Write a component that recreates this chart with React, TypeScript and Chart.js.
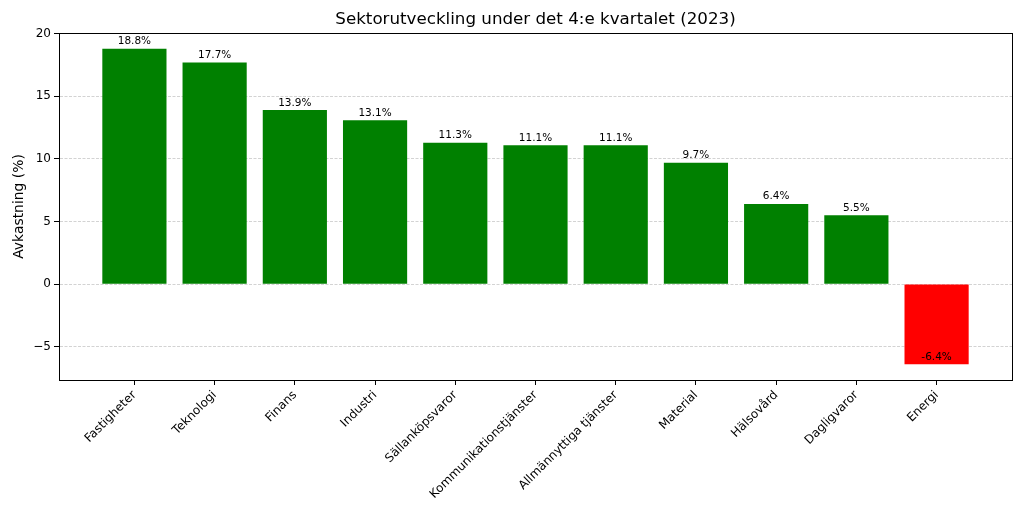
import React, { useEffect, useRef } from "react";
import { Chart, registerables } from "chart.js";

Chart.register(...registerables);

const categories: string[] = [
  "Fastigheter",
  "Teknologi",
  "Finans",
  "Industri",
  "Sällanköpsvaror",
  "Kommunikationstjänster",
  "Allmännyttiga tjänster",
  "Material",
  "Hälsovård",
  "Dagligvaror",
  "Energi",
];
const values: number[] = [18.8, 17.7, 13.9, 13.1, 11.3, 11.1, 11.1, 9.7, 6.4, 5.5, -6.4];
const yTicks: number[] = [-5, 0, 5, 10, 15, 20];
const titleText = "Sektorutveckling under det 4:e kvartalet (2023)";
const yLabel = "Avkastning (%)";

const FONT = "'DejaVu Sans', sans-serif";

export default function App() {
  const ref = useRef<HTMLCanvasElement | null>(null);

  useEffect(() => {
    if (!ref.current) return;
    const n = categories.length;
    const vMin = Math.min(0, ...values);
    const vMax = Math.max(0, ...values);
    const span = vMax - vMin;
    const xMarginLo = -0.4 - 0.05 * (n - 1 + 0.8);
    const xMarginHi = n - 1 + 0.4 + 0.05 * (n - 1 + 0.8);

    const decor = {
      id: "decor",
      afterDatasetsDraw(chart: any) {
        const ctx = chart.ctx;
        const meta = chart.getDatasetMeta(0);
        ctx.save();
        ctx.fillStyle = "#000";
        ctx.font = `10.5px ${FONT}`;
        ctx.textAlign = "center";
        ctx.textBaseline = "bottom";
        meta.data.forEach((el: any, i: number) => {
          const y = chart.scales.y.getPixelForValue(values[i]);
          ctx.fillText(`${values[i].toFixed(1)}%`, el.x, y - 2);
        });
        ctx.restore();
      },
      afterDraw(chart: any) {
        const ctx = chart.ctx;
        const a = chart.chartArea;
        ctx.save();
        ctx.setLineDash([]);
        ctx.strokeStyle = "#000";
        ctx.lineWidth = 1;
        ctx.strokeRect(Math.round(a.left) + 0.5, Math.round(a.top) + 0.5, Math.round(a.right - a.left), Math.round(a.bottom - a.top));
        ctx.fillStyle = "#000";
        ctx.font = `16.7px ${FONT}`;
        ctx.textAlign = "center";
        ctx.textBaseline = "middle";
        ctx.fillText(titleText, (a.left + a.right) / 2, 20);
        ctx.translate(19, (a.top + a.bottom) / 2);
        ctx.rotate(-Math.PI / 2);
        ctx.font = `13.9px ${FONT}`;
        ctx.fillText(yLabel, 0, 0);
        ctx.restore();
      },
    };

    const chart = new Chart(ref.current, {
      type: "bar",
      data: {
        datasets: [
          {
            data: values.map((v, i) => ({ x: i, y: v })),
            backgroundColor: values.map((v) => (v >= 0 ? "#008000" : "#ff0000")),
            borderWidth: 0,
            barPercentage: 0.8,
            categoryPercentage: 1.0,
          },
        ],
      },
      options: {
        responsive: false,
        animation: false,
        devicePixelRatio: 1,
        layout: { padding: { top: 33, right: 12, left: 0, bottom: 0 } },
        plugins: {
          legend: { display: false },
          title: { display: false },
          tooltip: { enabled: false },
        },
        scales: {
          x: {
            type: "linear",
            min: xMarginLo,
            max: xMarginHi,
            offset: false,
            afterFit(scale: any) {
              scale.height = 132;
            },
            afterBuildTicks(scale: any) {
              scale.ticks = categories.map((_, i) => ({ value: i }));
            },
            ticks: {
              autoSkip: false,
              minRotation: 45,
              maxRotation: 45,
              padding: 3,
              color: "#000",
              font: { family: FONT, size: 12 },
              callback: (v: any) => categories[Math.round(Number(v))] ?? "",
            },
            grid: {
              offset: false,
              drawOnChartArea: false,
              drawTicks: true,
              tickLength: 5,
              tickColor: "#000",
              color: "#000",
            },
            border: { display: true, color: "#000", width: 1 },
          },
          y: {
            min: vMin - 0.05 * span,
            max: vMax + 0.05 * span,
            afterFit(scale: any) {
              scale.width = 59;
            },
            afterBuildTicks(scale: any) {
              scale.ticks = yTicks.map((v) => ({ value: v }));
            },
            ticks: {
              padding: 3,
              color: "#000",
              font: { family: FONT, size: 12 },
              callback: (v: any) => String(v).replace("-", "\u2212"),
            },
            grid: {
              offset: false,
              color: "rgba(176,176,176,0.7)",
              lineWidth: 0.8,
              drawTicks: true,
              tickLength: 5,
              tickColor: "#000",
              tickBorderDash: [],
              tickWidth: 1,
            },
            border: { display: true, color: "#000", width: 1, dash: [3, 1.5] },
          },
        },
      },
      plugins: [decor],
    } as any);

    return () => chart.destroy();
  }, []);

  return (
    <div style={{ position: "fixed", left: 0, top: 0, width: 1024, height: 512, background: "#fff" }}>
      <canvas ref={ref} width={1024} height={512} style={{ width: 1024, height: 512, display: "block" }} />
    </div>
  );
}
